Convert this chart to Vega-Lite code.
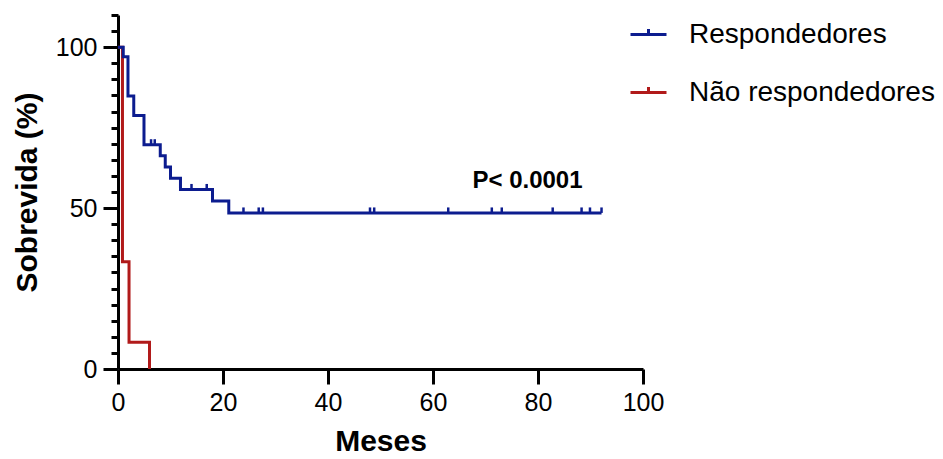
{
  "$schema": "https://vega.github.io/schema/vega-lite/v6.json",
  "width": 525,
  "height": 354,
  "autosize": {"type": "none"},
  "padding": {"left": 118, "top": 15, "right": 300, "bottom": 90},
  "background": "white",
  "config": {
    "view": {"stroke": null},
    "font": "Liberation Sans",
    "axis": {
      "domainColor": "black", "domainWidth": 3, "tickColor": "black", "tickWidth": 3,
      "labelColor": "black", "titleColor": "black", "grid": false,
      "labelFont": "Liberation Sans", "titleFont": "Liberation Sans"
    }
  },
  "datasets": {
    "km": [
      {"group": "Não respondedores", "t": 0, "s": 100},
      {"group": "Não respondedores", "t": 0.85, "s": 33.3},
      {"group": "Não respondedores", "t": 2.1, "s": 8.3},
      {"group": "Não respondedores", "t": 6.0, "s": 0},
      {"group": "Respondedores", "t": 0, "s": 100},
      {"group": "Respondedores", "t": 1.0, "s": 97.0},
      {"group": "Respondedores", "t": 1.9, "s": 84.8},
      {"group": "Respondedores", "t": 3.0, "s": 78.8},
      {"group": "Respondedores", "t": 4.95, "s": 69.7},
      {"group": "Respondedores", "t": 8.05, "s": 66.3},
      {"group": "Respondedores", "t": 9.0, "s": 62.8},
      {"group": "Respondedores", "t": 10.0, "s": 59.3},
      {"group": "Respondedores", "t": 11.9, "s": 55.8},
      {"group": "Respondedores", "t": 18.0, "s": 52.2},
      {"group": "Respondedores", "t": 21.1, "s": 48.5},
      {"group": "Respondedores", "t": 92.1, "s": 48.5}
    ],
    "censor": [
      {"group": "Respondedores", "t": 6.3, "s": 69.7},
      {"group": "Respondedores", "t": 7.0, "s": 69.7},
      {"group": "Respondedores", "t": 14.0, "s": 55.8},
      {"group": "Respondedores", "t": 16.9, "s": 55.8},
      {"group": "Respondedores", "t": 23.9, "s": 48.5},
      {"group": "Respondedores", "t": 26.8, "s": 48.5},
      {"group": "Respondedores", "t": 27.6, "s": 48.5},
      {"group": "Respondedores", "t": 48.0, "s": 48.5},
      {"group": "Respondedores", "t": 48.8, "s": 48.5},
      {"group": "Respondedores", "t": 62.9, "s": 48.5},
      {"group": "Respondedores", "t": 71.2, "s": 48.5},
      {"group": "Respondedores", "t": 73.1, "s": 48.5},
      {"group": "Respondedores", "t": 82.8, "s": 48.5},
      {"group": "Respondedores", "t": 88.3, "s": 48.5},
      {"group": "Respondedores", "t": 89.9, "s": 48.5},
      {"group": "Respondedores", "t": 92.1, "s": 48.5}
    ],
    "note": [
      {"t": 78.0, "s": 58.4, "label": "P< 0.0001"}
    ]
  },
  "encoding": {
    "x": {
      "field": "t", "type": "quantitative",
      "scale": {"domain": [0, 100], "nice": false, "zero": false},
      "axis": {
        "values": [0, 20, 40, 60, 80, 100],
        "title": "Meses", "titleFontSize": 30, "titleFontWeight": "bold", "titlePadding": 11,
        "labelFontSize": 25, "labelPadding": 6, "tickSize": 15, "labelFlush": false
      }
    },
    "y": {
      "field": "s", "type": "quantitative",
      "scale": {"domain": [0, 110], "nice": false},
      "axis": {
        "values": [0, 5, 10, 15, 20, 25, 30, 35, 40, 45, 50, 55, 60, 65, 70, 75, 80, 85, 90, 95, 100, 105, 110],
        "title": "Sobrevida (%)", "titleFontSize": 30, "titleFontWeight": "bold", "titlePadding": 13,
        "labelFontSize": 25, "labelPadding": 6, "labelOverlap": false,
        "labelExpr": "datum.value % 50 === 0 ? datum.label : ''",
        "tickSize": {"condition": {"test": "datum.value % 50 === 0", "value": 15}, "value": 7}
      }
    }
  },
  "layer": [
    {
      "data": {"name": "km"},
      "transform": [{"filter": "datum.group === 'Não respondedores'"}],
      "mark": {"type": "line", "interpolate": "step-after", "strokeWidth": 3},
      "encoding": {
        "color": {
          "field": "group", "type": "nominal",
          "scale": {"domain": ["Respondedores", "Não respondedores"], "range": ["#0c1c8f", "#b11a1a"]},
          "legend": {
            "orient": "none", "legendX": 511, "legendY": 0, "title": null,
            "labelFontSize": 28, "labelFont": "Liberation Sans", "labelColor": "black",
            "symbolType": "M-1,0L1,0M0,0L0,-0.3", "symbolSize": 1296, "symbolStrokeWidth": 3,
            "labelOffset": 21, "rowPadding": 24, "labelLimit": 400
          }
        }
      }
    },
    {
      "data": {"name": "km"},
      "transform": [{"filter": "datum.group === 'Respondedores'"}],
      "mark": {"type": "line", "interpolate": "step-after", "strokeWidth": 3},
      "encoding": {"color": {"field": "group", "type": "nominal"}}
    },
    {
      "data": {"name": "censor"},
      "mark": {"type": "point", "shape": "M0,0L0,-2", "filled": false, "strokeWidth": 2.5, "size": 30, "opacity": 1},
      "encoding": {"color": {"field": "group", "type": "nominal"}}
    },
    {
      "data": {"name": "note"},
      "mark": {"type": "text", "fontSize": 24, "fontWeight": "bold", "font": "Liberation Sans", "color": "black", "align": "center", "baseline": "middle"},
      "encoding": {"text": {"field": "label"}}
    }
  ]
}
